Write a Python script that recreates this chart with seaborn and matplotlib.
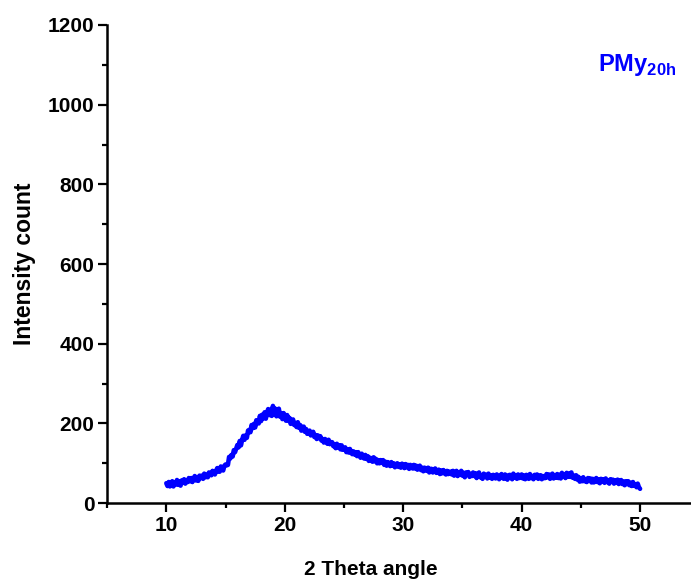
import numpy as np
import pandas as pd
import matplotlib
matplotlib.use("Agg")
import matplotlib.pyplot as plt
from matplotlib.ticker import MultipleLocator
import seaborn as sns

# 2-theta from 10 to 50 in steps of 0.1
two_theta = [round(10 + 0.1 * i, 1) for i in range(401)]
intensity = [
    50, 43, 53, 42, 49, 55, 42, 51, 47, 58, 46, 54, 44, 57, 53, 60, 49, 57, 53, 63,
    55, 63, 53, 62, 68, 57, 63, 56, 69, 63, 69, 61, 74, 65, 71, 65, 77, 74, 70, 81,
    79, 72, 81, 88, 79, 79, 92, 87, 82, 94, 97, 95, 96, 116, 112, 121, 117, 133, 128, 137,
    146, 140, 156, 145, 159, 169, 159, 170, 164, 182, 184, 178, 196, 188, 199, 190, 208, 206, 200, 219,
    206, 222, 213, 228, 212, 227, 236, 221, 234, 219, 244, 223, 237, 218, 233, 237, 217, 226, 211, 226,
    221, 207, 221, 207, 214, 199, 209, 210, 196, 201, 191, 203, 189, 196, 182, 191, 192, 179, 186, 174,
    175, 182, 170, 175, 179, 166, 171, 161, 170, 163, 168, 157, 161, 152, 161, 156, 149, 159, 148, 153,
    153, 143, 148, 138, 149, 140, 145, 135, 145, 134, 137, 140, 128, 135, 127, 136, 127, 123, 130, 122,
    128, 118, 128, 119, 114, 124, 118, 112, 121, 111, 118, 106, 114, 112, 104, 115, 105, 111, 100, 108,
    100, 108, 101, 108, 96, 104, 94, 103, 99, 93, 103, 94, 100, 90, 97, 100, 91, 97, 89, 99,
    96, 88, 98, 90, 96, 86, 96, 92, 87, 96, 87, 94, 84, 90, 94, 83, 89, 80, 89, 83,
    81, 89, 77, 86, 86, 77, 83, 87, 76, 81, 84, 73, 82, 75, 83, 75, 72, 81, 73, 79,
    79, 72, 81, 69, 75, 81, 68, 76, 71, 81, 69, 76, 65, 77, 72, 78, 66, 73, 68, 77,
    68, 75, 63, 72, 77, 65, 69, 61, 74, 66, 71, 62, 74, 64, 69, 61, 71, 67, 62, 72,
    69, 60, 68, 73, 63, 61, 72, 66, 59, 70, 71, 64, 60, 74, 65, 69, 61, 72, 63, 67,
    72, 62, 69, 60, 71, 67, 61, 73, 63, 68, 60, 71, 64, 72, 61, 69, 70, 60, 68, 63,
    63, 73, 65, 72, 61, 70, 74, 62, 69, 64, 73, 63, 71, 62, 76, 66, 71, 63, 76, 66,
    74, 66, 77, 64, 69, 61, 70, 59, 66, 54, 62, 55, 65, 55, 60, 53, 63, 56, 62, 52,
    61, 52, 59, 63, 53, 60, 50, 61, 54, 60, 51, 62, 53, 57, 49, 60, 54, 59, 49, 57,
    51, 59, 48, 56, 58, 48, 54, 45, 55, 48, 55, 45, 51, 43, 53, 44, 46, 40, 49, 40,
    36,
]
series_label = "PMy"
series_sub = "20h"
x_label = "2 Theta angle"
y_label = "Intensity count"

df = pd.DataFrame({"theta": two_theta, "counts": intensity})

sns.set_style("ticks")
plt.rcParams["font.family"] = ["Liberation Sans", "DejaVu Sans"]
plt.rcParams["font.weight"] = "bold"
plt.rcParams["mathtext.fontset"] = "custom"
plt.rcParams["mathtext.rm"] = "Liberation Sans:bold"
plt.rcParams["mathtext.bf"] = "Liberation Sans:bold"

fig = plt.figure(figsize=(6.91, 5.81), dpi=100)
ax = fig.add_axes([0.155, 0.134, 0.845, 0.823])

sns.lineplot(data=df, x="theta", y="counts", ax=ax, color="#0000FF",
             linewidth=3.3, legend=False)

ax.set_xlim(5, 54.3)
ax.set_ylim(0, 1200)
ax.xaxis.set_major_locator(MultipleLocator(10))
ax.xaxis.set_minor_locator(MultipleLocator(5))
ax.yaxis.set_major_locator(MultipleLocator(200))
ax.yaxis.set_minor_locator(MultipleLocator(100))

for s in ["top", "right"]:
    ax.spines[s].set_visible(False)
for s in ["left", "bottom"]:
    ax.spines[s].set_linewidth(1.8)
    ax.spines[s].set_color("black")

ax.tick_params(which="major", direction="out", length=6.5, width=1.6,
               labelsize=15, pad=2.5, colors="black", labelcolor="black")
ax.tick_params(which="minor", direction="out", length=3.5, width=1.6,
               colors="black")
for lab in ax.get_xticklabels() + ax.get_yticklabels():
    lab.set_fontweight("bold")

ax.set_xlabel(x_label, fontsize=15, fontweight="bold", color="black")
ax.set_ylabel(y_label, fontsize=16.5, fontweight="bold", color="black")
ax.xaxis.set_label_coords(0.452, -0.118)
ax.yaxis.set_label_coords(-0.122, 0.5)

ax.text(0.908, 0.916, r"$\mathrm{%s}_{\mathrm{%s}}$" % (series_label, series_sub),
        transform=ax.transAxes, color="#0000FF", fontsize=17,
        ha="center", va="center")

fig.savefig("out.png", dpi=100)
